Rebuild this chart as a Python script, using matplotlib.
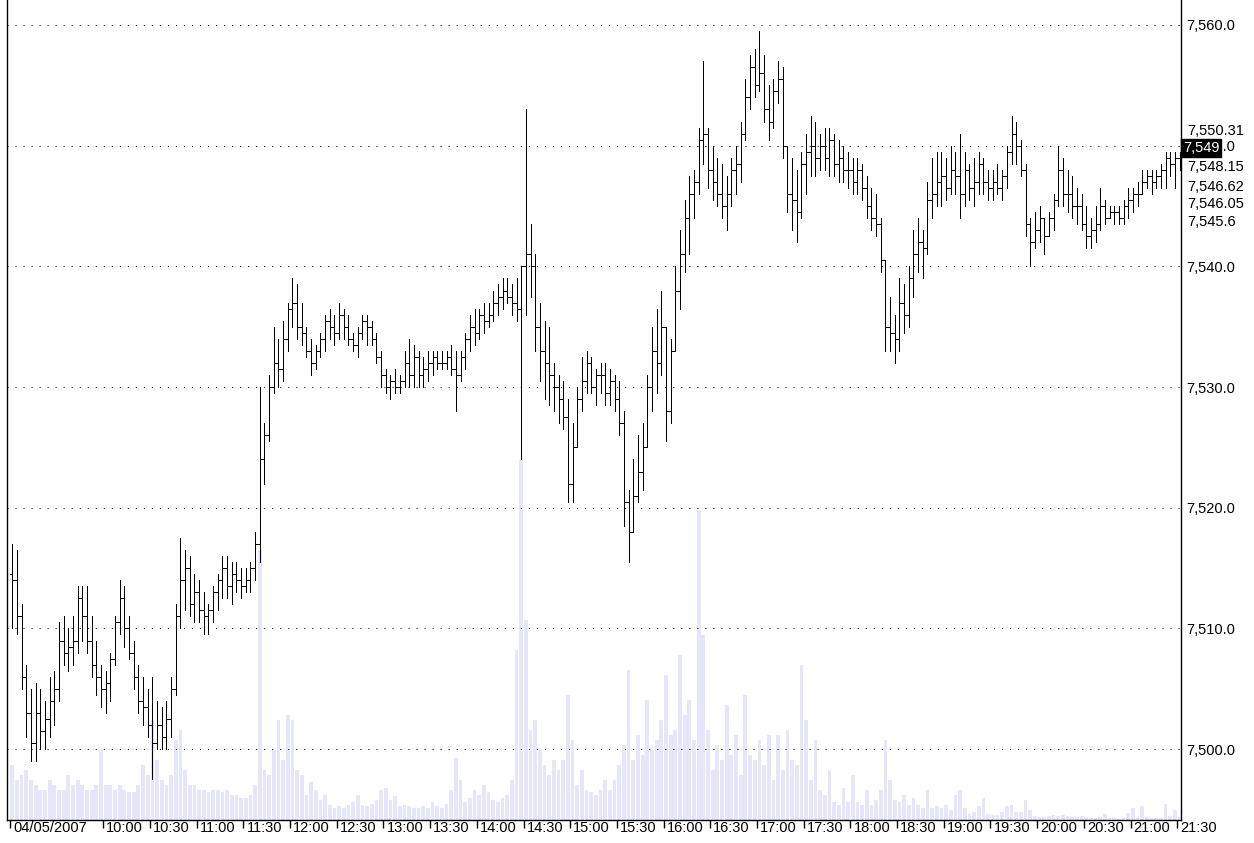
import matplotlib.pyplot as plt
import numpy as np
from matplotlib.collections import LineCollection
from matplotlib.transforms import ScaledTranslation

plt.rcParams["font.family"] = ["Liberation Sans", "DejaVu Sans"]

# 3-minute bars from 09:00, 04/05/2007
BAR_MIN = 3
first_open = 7514.5

highs = [
    7517, 7516.5, 7512, 7507, 7505, 7505.5, 7505, 7504, 7506, 7506.5,
    7510.5, 7511, 7510, 7511, 7513.5, 7513.5, 7513.5, 7511, 7509, 7507,
    7506.5, 7508, 7511, 7514, 7513.5, 7511, 7509, 7507, 7506, 7505,
    7506, 7504, 7503.5, 7504, 7506, 7512, 7517.5, 7516.5, 7516, 7514.5,
    7514, 7513, 7512, 7513.5, 7514.5, 7516, 7516, 7515.5, 7515.5, 7515,
    7515, 7515.5, 7518, 7530, 7527, 7531, 7535, 7534, 7535.5, 7537,
    7539, 7538.5, 7537, 7535, 7534, 7533.5, 7534.5, 7536, 7536.5, 7536,
    7537, 7536.5, 7536, 7534.5, 7535, 7536, 7536, 7535.5, 7534.5, 7533,
    7531.5, 7531, 7531.5, 7531, 7533, 7534, 7533.5, 7533, 7532.5, 7533,
    7533, 7533, 7533, 7533, 7533.5, 7533, 7533, 7534.5, 7536, 7536.5,
    7536.5, 7537, 7537, 7538, 7538.5, 7539, 7539, 7538.5, 7539, 7539,
    7553, 7543.5, 7541, 7537, 7535.5, 7535, 7532, 7531, 7530.5, 7529,
    7527, 7530, 7532.5, 7533, 7532.5, 7531.5, 7532, 7532, 7531.5, 7531,
    7530.5, 7528, 7521.5, 7524, 7526, 7527, 7531, 7535, 7536.5, 7538,
    7534, 7534, 7540, 7543, 7545.5, 7547.5, 7548, 7551.5, 7557, 7551.5,
    7550, 7549, 7548.5, 7547.5, 7549, 7550, 7552, 7555.5, 7557.5, 7558,
    7559.5, 7557.5, 7555, 7555.5, 7557, 7556.5, 7550, 7549, 7548, 7549.5,
    7551, 7552.5, 7552, 7551, 7551.5, 7551.5, 7551, 7550.5, 7550, 7549.5,
    7549, 7549, 7548.5, 7547.5, 7546.5, 7546, 7544, 7540, 7537.5, 7536,
    7539, 7538.5, 7540, 7543, 7544, 7543, 7547, 7549, 7549.5, 7549.5,
    7549, 7550, 7549.5, 7551, 7549.5, 7548.5, 7549, 7549.5, 7549, 7548,
    7548, 7548.5, 7548, 7550, 7552.5, 7552, 7550.5, 7548.5, 7544, 7544.5,
    7545, 7544, 7544.5, 7546, 7550, 7549, 7548, 7547.5, 7546.5, 7546,
    7545, 7544, 7545, 7546.5, 7545.5, 7545, 7545, 7545, 7545.5, 7546.5,
    7546.5, 7547, 7548, 7548, 7548, 7548, 7548.5, 7549.5, 7549.5, 7549.5,
    7549.5,
]
lows = [
    7510, 7509.5, 7505, 7501, 7499, 7499, 7500, 7500, 7501, 7502,
    7504, 7507, 7506.5, 7507, 7508, 7509, 7508, 7506, 7504.5, 7503.5,
    7503, 7504, 7507, 7509.5, 7508.5, 7507.5, 7505, 7503, 7502, 7501,
    7497.5, 7500, 7500, 7500, 7501, 7504.5, 7510, 7511.5, 7511, 7510.5,
    7510.5, 7509.5, 7509.5, 7510.5, 7511.5, 7512.5, 7512.5, 7512, 7513, 7512.5,
    7513, 7513, 7514, 7515.5, 7522, 7525.5, 7529.5, 7530, 7530.5, 7533,
    7535, 7534, 7533.5, 7532.5, 7531, 7531.5, 7532.5, 7533, 7534, 7533.5,
    7534, 7534, 7533.5, 7533, 7532.5, 7534, 7533.5, 7533.5, 7532, 7530,
    7529.5, 7529, 7529.5, 7529.5, 7530, 7530, 7530, 7530, 7530, 7530.5,
    7531, 7531.5, 7531.5, 7531.5, 7531, 7528, 7530.5, 7531.5, 7533, 7533.5,
    7534, 7534.5, 7535, 7535.5, 7536, 7536.5, 7537, 7536, 7535.5, 7524,
    7536, 7537.5, 7533, 7530.5, 7529, 7528.5, 7528, 7527, 7526.5, 7520.5,
    7520.5, 7525, 7528, 7529.5, 7529.5, 7528.5, 7529.5, 7528.5, 7528.5, 7528,
    7526, 7518.5, 7515.5, 7518, 7520.5, 7521.5, 7525, 7528, 7529.5, 7531,
    7525.5, 7527, 7533, 7536.5, 7539.5, 7541, 7544, 7546, 7548.5, 7546.5,
    7545.5, 7545, 7544, 7543, 7545, 7546, 7547, 7550.5, 7553, 7554,
    7554.5, 7552, 7550.5, 7551.5, 7553.5, 7549, 7544.5, 7543, 7542, 7544,
    7546, 7547.5, 7547.5, 7548, 7548, 7547.5, 7547.5, 7547, 7547, 7546.5,
    7546, 7546, 7545.5, 7544, 7543, 7542.5, 7539.5, 7533, 7533, 7532,
    7533, 7534.5, 7535, 7537.5, 7539.5, 7539, 7541, 7544, 7545, 7545,
    7545.5, 7546, 7546, 7544, 7545, 7545.5, 7545, 7546, 7546, 7545.5,
    7545.5, 7546, 7545.5, 7546.5, 7548.5, 7548.5, 7547.5, 7542.5, 7540, 7541.5,
    7542, 7541, 7542.5, 7543, 7545, 7545, 7544.5, 7544, 7543.5, 7543,
    7541.5, 7541.5, 7542, 7543, 7543.5, 7544, 7543.5, 7543.5, 7543.5, 7544,
    7544.5, 7545, 7546, 7546.5, 7546, 7546.5, 7546.5, 7546.5, 7547.5, 7546.5,
    7548,
]
closes = [
    7514, 7511, 7506, 7503, 7500.5, 7503, 7501.5, 7502.5, 7504, 7505,
    7509, 7508, 7508.5, 7509, 7512.5, 7511, 7509, 7507, 7506, 7505,
    7505.5, 7507.5, 7510.5, 7512.5, 7510, 7508, 7506, 7504, 7503.5, 7502,
    7500.5, 7502, 7501, 7502.5, 7505, 7511, 7514, 7515, 7512, 7513,
    7511.5, 7511, 7511.5, 7513, 7514, 7515, 7513.5, 7514.5, 7514, 7513.5,
    7514, 7515, 7517, 7524, 7526, 7530, 7532, 7531.5, 7534, 7536.5,
    7537, 7535, 7534.5, 7533, 7532, 7533, 7534, 7535.5, 7535, 7534.5,
    7536, 7535, 7534, 7533.5, 7534.5, 7535.5, 7535, 7534, 7532.5, 7531,
    7530, 7530.5, 7530, 7530.5, 7532, 7531, 7532.5, 7531, 7531.5, 7532,
    7532.5, 7532, 7532, 7532.5, 7531.5, 7531, 7532.5, 7534, 7535, 7534.5,
    7536, 7535.5, 7536, 7537, 7537.5, 7538, 7537.5, 7537, 7536.5, 7540,
    7541, 7540, 7535, 7533, 7532, 7531, 7530, 7529, 7527.5, 7522,
    7525, 7529, 7530.5, 7532, 7530, 7531, 7531, 7529.5, 7530.5, 7529,
    7527, 7520.5, 7518, 7521, 7523, 7525, 7530, 7533, 7532, 7535,
    7528, 7533, 7538, 7541, 7544, 7546, 7547, 7550.5, 7551, 7548,
    7547, 7546, 7545, 7546, 7548, 7548.5, 7551, 7554, 7556.5, 7555,
    7556, 7553, 7552, 7554.5, 7555.5, 7550, 7546, 7545.5, 7544.5, 7548.5,
    7549.5, 7550, 7549, 7550, 7549, 7550.5, 7548.5, 7549, 7548, 7548,
    7547, 7548, 7546.5, 7545, 7544, 7543.5, 7540.5, 7535, 7534.5, 7534,
    7537, 7536, 7539, 7541, 7542, 7541.5, 7545.5, 7546, 7547, 7547.5,
    7546.5, 7548, 7547.5, 7546, 7548, 7546.5, 7547, 7548.5, 7547, 7546.5,
    7547, 7546.5, 7547.5, 7549.5, 7551, 7550, 7548, 7543.5, 7542, 7543,
    7544, 7542.5, 7544, 7545.5, 7548, 7546, 7546, 7545, 7545, 7543.5,
    7542.5, 7543, 7543.5, 7545, 7544, 7544.5, 7544.5, 7544, 7545, 7545.5,
    7546, 7546, 7547, 7547.5, 7547, 7547.5, 7548, 7549, 7548.5, 7549,
    7549,
]
volumes = [
    55, 40, 45, 50, 40, 35, 30, 30, 40, 35,
    30, 30, 45, 35, 40, 35, 30, 30, 35, 70,
    35, 35, 30, 35, 30, 28, 28, 35, 55, 45,
    100, 60, 40, 35, 45, 80, 90, 50, 35, 35,
    30, 30, 28, 30, 30, 28, 30, 25, 25, 22,
    22, 25, 35, 270, 50, 45, 70, 100, 60, 105,
    100, 50, 45, 25, 38, 30, 20, 25, 15, 12,
    14, 12, 15, 18, 25, 15, 14, 16, 20, 30,
    32, 20, 24, 14, 15, 14, 12, 12, 14, 12,
    18, 14, 12, 16, 30, 62, 40, 18, 22, 30,
    25, 35, 28, 20, 18, 22, 25, 40, 170, 360,
    200, 90, 100, 70, 55, 45, 60, 50, 60, 125,
    80, 35, 50, 30, 28, 25, 30, 40, 30, 40,
    55, 75, 150, 60, 85, 65, 120, 70, 80, 100,
    145, 85, 90, 165, 105, 120, 80, 310, 185, 90,
    50, 75, 60, 115, 65, 85, 45, 125, 65, 60,
    80, 55, 85, 40, 85, 50, 90, 60, 55, 155,
    100, 40, 80, 30, 25, 50, 18, 15, 32, 18,
    45, 18, 15, 30, 15, 20, 30, 80, 40, 20,
    18, 25, 15, 22, 15, 12, 30, 12, 14, 12,
    15, 10, 25, 30, 12, 6, 8, 14, 22, 6,
    5, 5, 8, 14, 15, 8, 8, 20, 10, 4,
    3, 3, 4, 5, 4, 5, 4, 3, 3, 4,
    3, 2, 2, 3, 6, 2, 2, 1, 2, 7,
    12, 3, 14, 3, 2, 2, 2, 16, 4, 10,
    3,
]

tick_minutes = [0] + list(range(60, 751, 30))
tick_labels = [
    "04/05/2007", "10:00", "10:30", "11:00", "11:30", "12:00", "12:30",
    "13:00", "13:30", "14:00", "14:30", "15:00", "15:30", "16:00", "16:30",
    "17:00", "17:30", "18:00", "18:30", "19:00", "19:30", "20:00", "20:30",
    "21:00", "21:30",
]
price_ticks = [7500, 7510, 7520, 7530, 7540, 7550, 7560]

# indicator readouts on the right scale, and where they are stacked
marker_values = [7550.31, 7548.15, 7546.62, 7546.05, 7545.6]
marker_pos = [7551.2, 7548.2, 7546.6, 7545.15, 7543.65]
last_price = 7549

# ── build ─────────────────────────────────────────────────────────────────────

closes_a = np.array(closes, dtype=float)
opens = np.r_[first_open, closes_a[:-1]]
hi = np.maximum.reduce([np.array(highs, dtype=float), opens, closes_a])
lo = np.minimum.reduce([np.array(lows, dtype=float), opens, closes_a])
t = np.arange(len(closes)) * BAR_MIN + BAR_MIN / 2

fig = plt.figure(figsize=(12.54, 8.43), dpi=100)
ax_v = fig.add_axes([7 / 1254, 23 / 843, 1174 / 1254, 820 / 843])
ax = ax_v.twinx()

# volume underneath
ax_v.bar(t, volumes, width=BAR_MIN * 0.8, color="#E6E6FA", linewidth=0)
ax_v.set_ylim(0, 820)
ax_v.set_yticks([])
ax_v.set_xlim(-1.9, 752.4)

# dotted price grid
for p in price_ticks:
    ax.axhline(p, color="black", lw=0.75, dashes=(1, 6.7), zorder=1)

half = BAR_MIN / 2
segs = []
for x, o, h, l, c in zip(t, opens, hi, lo, closes_a):
    segs.append([(x, l), (x, h)])
    segs.append([(x - half, o), (x, o)])
    segs.append([(x, c), (x + half, c)])
ax.add_collection(
    LineCollection(segs, colors="black", linewidths=0.72, antialiaseds=False, zorder=3)
)
ax.set_ylim(7494.13, 7562.07)
ax.set_xlim(-1.9, 752.4)

# right price scale
ax.set_yticks(price_ticks, labels=[f"{p:,.1f}" for p in price_ticks])
ax.tick_params(axis="y", length=0, pad=4, labelsize=10.5)
for v, pos in zip(marker_values, marker_pos):
    ax.text(1.005, pos, f"{v:,}", transform=ax.get_yaxis_transform(),
            ha="left", va="center", fontsize=10.5, clip_on=False)
ax.text(1.0015, 7549.8, f"{last_price:,}", transform=ax.get_yaxis_transform(),
        ha="left", va="center", fontsize=10.5, color="white", clip_on=False,
        zorder=5, bbox=dict(boxstyle="square,pad=0.12", fc="black", ec="black"))

# time axis: labels sit to the right of each tick
ax_v.set_xticks(tick_minutes, labels=tick_labels)
ax_v.tick_params(axis="x", direction="out", length=6, width=1, pad=-5.4, labelsize=10.5)
shift = ScaledTranslation(3 / 100, 0, fig.dpi_scale_trans)
for lab in ax_v.get_xticklabels():
    lab.set_horizontalalignment("left")
    lab.set_transform(lab.get_transform() + shift)

for sp in ax.spines.values():
    sp.set_visible(False)
ax_v.spines["top"].set_visible(False)
for name in ("left", "right", "bottom"):
    ax_v.spines[name].set_linewidth(1)

fig.savefig("out.png", dpi=100)
